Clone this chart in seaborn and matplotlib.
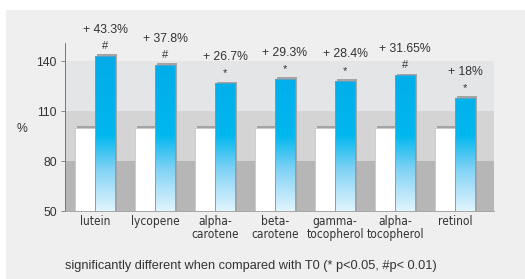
import numpy as np
import pandas as pd
import matplotlib
matplotlib.use("Agg")
from matplotlib import pyplot as plt
from matplotlib.colors import LinearSegmentedColormap
from matplotlib.patches import Rectangle
from matplotlib.transforms import ScaledTranslation
import seaborn as sns

categories = ['lutein', 'lycopene', 'alpha-\ncarotene', 'beta-\ncarotene',
              'gamma-\ntocopherol', 'alpha-\ntocopherol', 'retinol']
t0_values = [100, 100, 100, 100, 100, 100, 100]
t1_values = [143.3, 137.8, 126.7, 129.3, 128.4, 131.65, 118]
pct_labels = ['+ 43.3%', '+ 37.8%', '+ 26.7%', '+ 29.3%', '+ 28.4%', '+ 31.65%', '+ 18%']
signif = ['#', '#', '*', '*', '*', '#', '*']
yticks = [50, 80, 110, 140]
footnote = 'significantly different when compared with T0 (* p<0.05, #p< 0.01)'

df = pd.DataFrame({
    'nutrient': categories * 2,
    'time': ['T0'] * len(categories) + ['T1'] * len(categories),
    'value': t0_values + t1_values,
})

sns.set_style('white')
plt.rcParams['font.family'] = ['Liberation Sans', 'DejaVu Sans']

fig = plt.figure(figsize=(5.25, 2.79), dpi=100, facecolor='white')
# grey panel behind everything
fig.patches.append(Rectangle((6 / 525, 0), 1, 1 - 10 / 279, transform=fig.transFigure,
                             facecolor='#efefef', edgecolor='none', zorder=-10))
ax = fig.add_axes([65 / 525, 1 - 211 / 279, (494 - 65) / 525, (211 - 43) / 279])
ax.patch.set_alpha(0)

# background bands
ax.axhspan(50, 80, color='#b6b6b6', zorder=0, lw=0)
ax.axhspan(80, 110, color='#d4d4d5', zorder=0, lw=0)
ax.axhspan(110, 140, color='#e4e5e7', zorder=0, lw=0)

sns.barplot(data=df, x='nutrient', y='value', hue='time', order=categories,
            palette={'T0': 'white', 'T1': '#00b4ee'}, width=0.667,
            saturation=1, legend=False, ax=ax, zorder=3)

grad = LinearSegmentedColormap.from_list('blue_fade', [
    (0.0, '#e2f4fd'), (0.25, '#7fd2f5'), (0.45, '#00b7ef'),
    (0.85, '#02aeea'), (1.0, '#0aa2e2')])
yy = np.linspace(50, 151, 256).reshape(-1, 1)

shift = ScaledTranslation(2 / 100, 1.6 / 100, fig.dpi_scale_trans)
for i, bar in enumerate(ax.containers[0]):
    bar.set_edgecolor('#c9c9c9')
    bar.set_linewidth(0.6)
    sh = Rectangle(bar.get_xy(), bar.get_width(), bar.get_height(),
                   transform=ax.transData + shift, facecolor='#a4a4a4',
                   edgecolor='none', zorder=1.5)
    ax.add_patch(sh)

for i, bar in enumerate(ax.containers[1]):
    bar.set_facecolor('none')
    bar.set_edgecolor('#6d9fbd')
    bar.set_linewidth(0.6)
    x0 = bar.get_x()
    im = ax.imshow(yy, cmap=grad, origin='lower', aspect='auto',
                   extent=[x0, x0 + bar.get_width(), 50, 151], zorder=2.5)
    im.set_clip_path(bar)
    sh = Rectangle(bar.get_xy(), bar.get_width(), bar.get_height(),
                   transform=ax.transData + shift, facecolor='#a4a4a4',
                   edgecolor='none', zorder=1.5)
    ax.add_patch(sh)
    xc = x0 + bar.get_width() / 2
    top = bar.get_height()
    ax.annotate(signif[i], (xc, top), xytext=(0, 5), textcoords='offset points',
                ha='center', va='baseline', fontsize=8, color='#333333')
    ax.annotate(pct_labels[i], (xc, top), xytext=(0, 14.5), textcoords='offset points',
                ha='center', va='bottom', fontsize=8.8, color='#333333')

ax.set_xlim(-0.5, 6.65)
ax.set_ylim(50, 151)

ax.set_yticks(yticks)
ax.set_yticklabels([str(t) for t in yticks], fontsize=8.8, color='#333333')
ax.tick_params(axis='y', length=3, width=0.6, color='#777777', pad=3, left=True)
ax.tick_params(axis='x', length=0, pad=3)
ax.set_xticks(range(len(categories)))
ax.set_xticklabels(categories, fontsize=8.6, color='#333333', linespacing=1.0,
                   family=['DejaVu Sans'], fontstretch='condensed')

ax.set_xlabel('')
ax.set_ylabel('%', rotation=0, fontsize=8.8, color='#333333')
ax.yaxis.set_label_coords(-0.1, 0.45)

for side in ['top', 'right']:
    ax.spines[side].set_visible(False)
ax.spines['left'].set_color('#777777')
ax.spines['left'].set_linewidth(0.7)
ax.spines['bottom'].set_color('#999999')
ax.spines['bottom'].set_linewidth(0.6)

fig.text(65 / 525, 1 - 266 / 279, footnote, fontsize=9.2, color='#333333',
         ha='left', va='center')

fig.savefig('out.png', dpi=100, facecolor=fig.get_facecolor())
